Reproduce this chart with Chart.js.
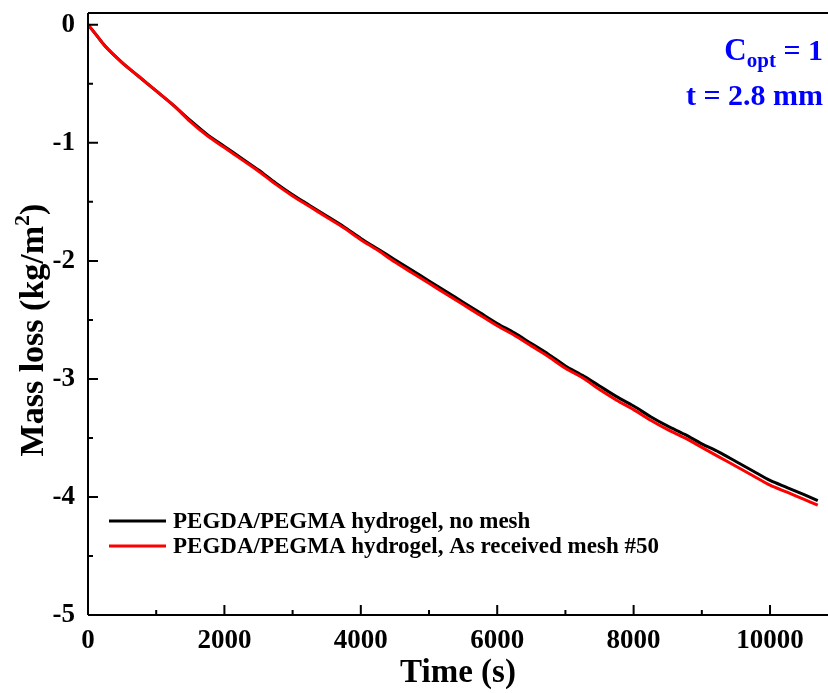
<!DOCTYPE html>
<html>
<head>
<meta charset="utf-8">
<script src="https://cdn.jsdelivr.net/npm/chart.js@4"></script>
<style>
  html, body { margin: 0; padding: 0; background: #fff; }
  #wrap { width: 828px; height: 693px; }
</style>
</head>
<body>
<div id="wrap"><canvas id="massChart" width="828" height="693"></canvas></div>
<script>
var times = [0, 100, 250, 500, 750, 1000, 1250, 1500, 1750, 2000, 2250, 2500, 2750, 3000, 3250, 3500,
    3750, 4000, 4250, 4500, 4750, 5000, 5250, 5500, 5750, 6000, 6250, 6500, 6750, 7000, 7250, 7500,
    7750, 8000, 8250, 8500, 8750, 9000, 9250, 9500, 9750, 10000, 10250, 10500, 10700];

var noMesh = [0, -0.07, -0.18, -0.32, -0.44, -0.56, -0.68, -0.81, -0.93, -1.03, -1.13, -1.23, -1.34, -1.44, -1.53, -1.62,
    -1.71, -1.81, -1.90, -1.99, -2.08, -2.17, -2.26, -2.35, -2.44, -2.53, -2.61, -2.70, -2.79, -2.89, -2.97, -3.06,
    -3.15, -3.23, -3.32, -3.40, -3.47, -3.55, -3.62, -3.70, -3.78, -3.86, -3.92, -3.98, -4.03];

var mesh50 = [0, -0.07, -0.18, -0.32, -0.44, -0.56, -0.68, -0.82, -0.94, -1.04, -1.14, -1.24, -1.35, -1.45, -1.54, -1.63,
    -1.72, -1.82, -1.91, -2.01, -2.10, -2.19, -2.28, -2.37, -2.46, -2.55, -2.63, -2.72, -2.81, -2.91, -2.99, -3.09,
    -3.18, -3.26, -3.35, -3.43, -3.50, -3.58, -3.66, -3.74, -3.82, -3.90, -3.96, -4.02, -4.07];

var seriesLabels = ["PEGDA/PEGMA hydrogel, no mesh", "PEGDA/PEGMA hydrogel, As received mesh #50"];
var xTicks = [0, 2000, 4000, 6000, 8000, 10000];
var yTicks = [0, -1, -2, -3, -4, -5];

var serif = "'Liberation Serif', 'Times New Roman', serif";

function pts(xs, ys) {
    return xs.map(function (x, i) { return {x: x, y: ys[i]}; });
}

// inward ticks, axis frame, y title, legend and the blue note
var framePlugin = {
    id: 'frame',
    afterDraw: function (chart) {
        var ctx = chart.ctx, a = chart.chartArea;
        var xs = chart.scales.x, ys = chart.scales.y;
        ctx.save();
        ctx.strokeStyle = '#000';
        ctx.lineWidth = 2;
        ctx.beginPath();
        ctx.moveTo(a.left, a.top); ctx.lineTo(a.right, a.top);
        ctx.moveTo(a.left, a.top); ctx.lineTo(a.left, a.bottom);
        ctx.moveTo(a.left, a.bottom); ctx.lineTo(a.right, a.bottom);
        xTicks.forEach(function (v) {
            var p = xs.getPixelForValue(v);
            ctx.moveTo(p, a.bottom); ctx.lineTo(p, a.bottom - 10);
            var m = xs.getPixelForValue(v + 1000);
            if (m < a.right) { ctx.moveTo(m, a.bottom); ctx.lineTo(m, a.bottom - 5); }
        });
        yTicks.forEach(function (v) {
            var p = ys.getPixelForValue(v);
            ctx.moveTo(a.left, p); ctx.lineTo(a.left + 10, p);
            var m = ys.getPixelForValue(v - 0.5);
            if (m < a.bottom) { ctx.moveTo(a.left, m); ctx.lineTo(a.left + 5, m); }
        });
        ctx.stroke();

        // y title with a real superscript
        ctx.save();
        ctx.translate(43, 330);
        ctx.rotate(-Math.PI / 2);
        ctx.fillStyle = '#000';
        ctx.textBaseline = 'alphabetic';
        ctx.textAlign = 'left';
        ctx.font = 'bold 34px ' + serif;
        var p1 = 'Mass loss (kg/m', p2 = '2', p3 = ')';
        var w1 = ctx.measureText(p1).width;
        ctx.font = 'bold 22px ' + serif;
        var w2 = ctx.measureText(p2).width;
        ctx.font = 'bold 34px ' + serif;
        var w3 = ctx.measureText(p3).width;
        var x0 = -(w1 + w2 + w3) / 2;
        ctx.fillText(p1, x0, 0);
        ctx.fillText(p3, x0 + w1 + w2, 0);
        ctx.font = 'bold 22px ' + serif;
        ctx.fillText(p2, x0 + w1, -14);
        ctx.restore();

        // legend
        ctx.font = 'bold 23px ' + serif;
        ctx.textBaseline = 'middle';
        ctx.textAlign = 'left';
        chart.data.datasets.forEach(function (ds, i) {
            var y = 521 + i * 25;
            ctx.strokeStyle = ds.borderColor;
            ctx.lineWidth = 3;
            ctx.beginPath();
            ctx.moveTo(109, y); ctx.lineTo(166, y);
            ctx.stroke();
            ctx.fillStyle = '#000';
            ctx.fillText(ds.label, 173, y + 1);
        });

        // note
        ctx.fillStyle = '#0000ff';
        ctx.textBaseline = 'alphabetic';
        ctx.textAlign = 'right';
        ctx.font = 'bold 30px ' + serif;
        ctx.fillText('t = 2.8 mm', 823, 105);
        var n1 = ctx.measureText(' = 1').width;
        ctx.fillText(' = 1', 823, 60);
        ctx.font = 'bold 21px ' + serif;
        var n2 = ctx.measureText('opt').width;
        ctx.fillText('opt', 823 - n1, 67);
        ctx.font = 'bold 31px ' + serif;
        ctx.fillText('C', 823 - n1 - n2, 60);
        ctx.restore();
    }
};

var ctx = document.getElementById("massChart").getContext("2d");
new Chart(ctx, {
    type: 'line',
    data: {
        datasets: [
            {
                label: seriesLabels[0],
                data: pts(times, noMesh),
                borderColor: '#000000',
                borderWidth: 3,
                pointRadius: 0,
                tension: 0.3,
                order: 2
            },
            {
                label: seriesLabels[1],
                data: pts(times, mesh50),
                borderColor: '#ff0000',
                borderWidth: 3,
                pointRadius: 0,
                tension: 0.3,
                order: 1
            }
        ]
    },
    options: {
        responsive: false,
        animation: false,
        layout: {padding: {top: 13, right: 0, left: 0, bottom: 0}},
        plugins: {legend: {display: false}, tooltip: {enabled: false}},
        scales: {
            x: {
                type: 'linear',
                min: 0,
                max: 10850,
                grid: {display: false, drawTicks: false},
                border: {display: false},
                afterBuildTicks: function (s) {
                    s.ticks = xTicks.map(function (v) { return {value: v}; });
                },
                afterFit: function (s) { s.height = 78; s.paddingLeft = 0; s.paddingRight = 0; },
                ticks: {
                    padding: 10,
                    color: '#000',
                    font: {family: serif, size: 27, weight: 'bold'},
                    maxRotation: 0,
                    callback: function (v) { return String(v); }
                },
                title: {
                    display: true,
                    text: 'Time (s)',
                    color: '#000',
                    font: {family: serif, size: 33, weight: 'bold'},
                    padding: {top: 0, bottom: 0}
                }
            },
            y: {
                min: -5,
                max: 0.1,
                grid: {display: false, drawTicks: false},
                border: {display: false},
                afterBuildTicks: function (s) {
                    s.ticks = yTicks.map(function (v) { return {value: v}; });
                },
                afterFit: function (s) { s.width = 88; s.paddingTop = 0; s.paddingBottom = 0; },
                ticks: {
                    padding: 13,
                    color: '#000',
                    font: {family: serif, size: 27, weight: 'bold'},
                    callback: function (v) { return String(v); }
                }
            }
        }
    },
    plugins: [framePlugin]
});
</script>
</body>
</html>
